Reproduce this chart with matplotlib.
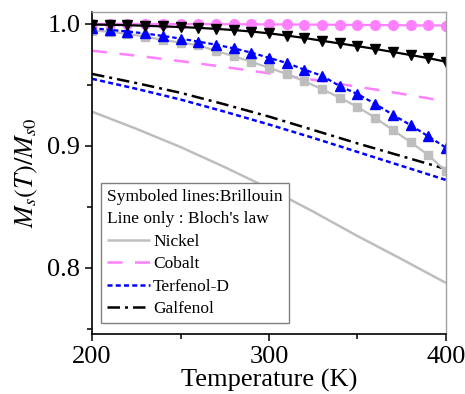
import matplotlib
matplotlib.use("Agg")
import matplotlib.pyplot as plt
from matplotlib.ticker import MultipleLocator

plt.rcParams["font.family"] = ["Liberation Serif", "DejaVu Serif"]
plt.rcParams["mathtext.fontset"] = "stix"

# Brillouin curves (symbols), every 10 K
T_b = [200, 210, 220, 230, 240, 250, 260, 270, 280, 290, 300,
       310, 320, 330, 340, 350, 360, 370, 380, 390, 400]
nickel_b = [0.9945, 0.9937, 0.9918, 0.9896, 0.9869, 0.9847, 0.9825, 0.9780, 0.9735, 0.9690, 0.9640,
            0.9590, 0.9530, 0.9465, 0.9395, 0.9320, 0.9230, 0.9130, 0.9030, 0.8925, 0.8790]
cobalt_b = [1.0000, 1.0000, 1.0000, 1.0000, 1.0000, 0.9999, 0.9999, 0.9998, 0.9998, 0.9997, 0.9997,
            0.9996, 0.9995, 0.9994, 0.9993, 0.9992, 0.9991, 0.9990, 0.9989, 0.9988, 0.9987]
terfenol_b = [0.9965, 0.9952, 0.9938, 0.9922, 0.9902, 0.9880, 0.9855, 0.9830, 0.9800, 0.9765, 0.9722,
              0.9680, 0.9625, 0.9575, 0.9490, 0.9425, 0.9345, 0.9255, 0.9170, 0.9078, 0.8985]
galfenol_b = [0.9995, 0.9993, 0.9990, 0.9985, 0.9980, 0.9975, 0.9968, 0.9960, 0.9950, 0.9938, 0.9923,
              0.9905, 0.9885, 0.9862, 0.9840, 0.9818, 0.9795, 0.9770, 0.9745, 0.9720, 0.9690]

# Bloch's law curves (lines only)
T_l = [200, 225, 250, 275, 300, 325, 350, 375, 400]
nickel_l = [0.928, 0.914, 0.899, 0.8825, 0.865, 0.846, 0.826, 0.807, 0.7875]
cobalt_l = [0.978, 0.974, 0.9695, 0.9647, 0.9595, 0.9542, 0.9485, 0.9427, 0.9365]
terfenol_l = [0.955, 0.9468, 0.938, 0.928, 0.9175, 0.9065, 0.895, 0.8835, 0.872]
galfenol_l = [0.959, 0.9515, 0.9435, 0.934, 0.924, 0.913, 0.902, 0.8915, 0.881]

names = ["Nickel", "Cobalt", "Terfenol-D", "Galfenol"]
colors = ["#BEBEBE", "#FF80FF", "#0000FF", "#000000"]

fig = plt.figure(figsize=(4.65, 3.94), dpi=100)
ax = fig.add_axes([0.198, 0.152, 0.761, 0.8175])

lw = 1.8
styles = [(0, ()), (0, (6, 5)), (0, (2, 1.3)), (0, (5, 2, 1.2, 2))]
bloch = [nickel_l, cobalt_l, terfenol_l, galfenol_l]
handles = []
for vals, c, ls, n in zip(bloch, colors, styles, names):
    h, = ax.plot(T_l, vals, color=c, lw=lw, linestyle=ls, label=n)
    handles.append(h)

ax.plot(T_b, nickel_b, color=colors[0], lw=1.6, marker="s", ms=5.5, mec=colors[0])
ax.plot(T_b, cobalt_b, color=colors[1], lw=1.6, marker="o", ms=7, mec=colors[1])
ax.plot(T_b, terfenol_b, color=colors[2], lw=1.6, linestyle=(0, (2, 1.3)),
        marker="^", ms=7.5, mec=colors[2])
ax.plot(T_b, galfenol_b, color=colors[3], lw=1.6, marker="v", ms=7, mec=colors[3])

ax.set_xlim(200, 400)
ax.set_ylim(0.7455, 1.0098)
ax.xaxis.set_major_locator(MultipleLocator(100))
ax.xaxis.set_minor_locator(MultipleLocator(50))
ax.yaxis.set_major_locator(MultipleLocator(0.1))
ax.yaxis.set_minor_locator(MultipleLocator(0.05))
ax.tick_params(which="both", direction="out", width=1.1, labelsize=19)
ax.tick_params(which="major", length=5)
ax.tick_params(which="minor", length=3.5)
ax.tick_params(top=False, right=False)

for s in ["top", "right"]:
    ax.spines[s].set_color("#A0A0A0")
    ax.spines[s].set_linewidth(1.0)
for s in ["left", "bottom"]:
    ax.spines[s].set_linewidth(1.2)

ax.set_xlabel("Temperature (K)", fontsize=19, labelpad=1)
ax.set_ylabel(r"$M_s(T)/M_{s0}$", fontsize=19, labelpad=5)

leg = ax.legend(handles=handles, loc="lower left", bbox_to_anchor=(0.025, 0.034),
                borderaxespad=0, fontsize=12.5, title="Symboled lines:Brillouin\nLine only : Bloch's law",
                title_fontsize=12.5, alignment="left", handlelength=2.45, handletextpad=0.2,
                labelspacing=0.36, fancybox=False, framealpha=1, edgecolor="#808080",
                borderpad=0.35)
leg.get_title().set_linespacing(1.55)
leg.get_frame().set_linewidth(1.0)

fig.savefig("out.png", dpi=100)
